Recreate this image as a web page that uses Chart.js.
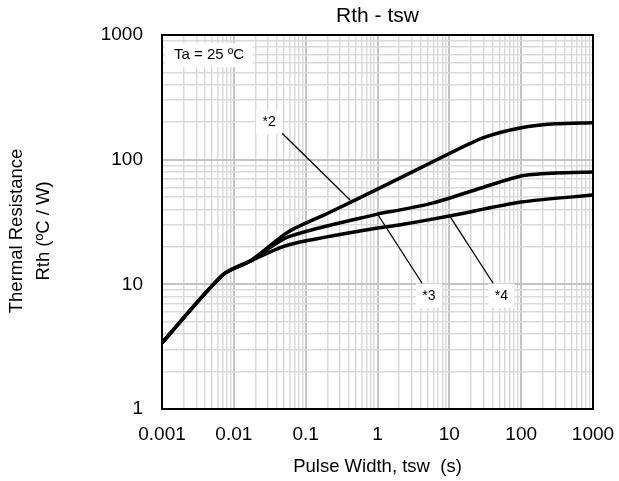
<!DOCTYPE html>
<html>
<head>
<meta charset="utf-8">
<script src="https://cdn.jsdelivr.net/npm/chart.js@4"></script>
<style>
  html, body { margin: 0; padding: 0; background: #fff; }
  #wrap { width: 619px; height: 481px; }
</style>
</head>
<body>
<div id="wrap"><canvas id="rthChart" width="619" height="481"></canvas></div>
<script>
// pulse width (s) and thermal resistance (ºC/W)
const tsw2 = [0.001, 0.007, 0.017, 0.057, 0.2, 1, 10, 30, 100, 300, 1000];
const rth2 = [3.4, 11.9, 15.4, 26.3, 37, 58, 112, 150, 180, 194, 198];
const tsw3 = [0.001, 0.007, 0.017, 0.057, 1, 2, 6, 27, 100, 300, 1000];
const rth3 = [3.4, 11.9, 15.4, 24, 36.6, 39.4, 45, 59, 74, 78, 79.5];
const tsw4 = [0.001, 0.007, 0.017, 0.057, 1, 2, 10, 100, 1000];
const rth4 = [3.4, 11.9, 15.4, 20.7, 28.3, 29.9, 35.3, 45.7, 52];

// leader lines for the curve labels: [from, to]
const leader2 = [[0.047, 163], [0.415, 47.4]];
const leader3 = [[1.02, 36], [4.18, 10.2]];
const leader4 = [[10.3, 34.7], [40.7, 10.2]];

const noteText = ["*2", "*3", "*4"];
const notePos = [[0.031, 200], [5.2, 8.1], [53, 8.1]];

const xTickLabels = [0.001, 0.01, 0.1, 1, 10, 100, 1000];
const yTickLabels = [1, 10, 100, 1000];

const FONT = "'Liberation Sans', Arial, sans-serif";

function toXY(xs, ys) {
  return xs.map((x, i) => ({ x, y: ys[i] }));
}
function pairXY(p) {
  return p.map((d) => ({ x: d[0], y: d[1] }));
}
function isDecade(v) {
  const l = Math.log10(v);
  return Math.abs(l - Math.round(l)) < 1e-6;
}
function logTicks(lo, hi) {
  const t = [];
  for (let e = lo; e <= hi; e++) {
    for (let m = 1; m <= 9; m++) {
      const v = m * Math.pow(10, e);
      if (v <= Math.pow(10, hi) * 1.0001) t.push({ value: v });
    }
  }
  return t;
}

const curveStyle = {
  borderColor: "#000",
  borderWidth: 3.5,
  pointRadius: 0,
  tension: 0.25,
  fill: false,
};
const leaderStyle = {
  borderColor: "#000",
  borderWidth: 1.3,
  pointRadius: 0,
  tension: 0,
  fill: false,
};

const extras = {
  id: "extras",
  afterDatasetsDraw(chart) {
    const c = chart.ctx;
    const xs = chart.scales.x;
    const ys = chart.scales.y;
    const a = chart.chartArea;

    c.save();
    c.textAlign = "center";
    c.textBaseline = "middle";

    // note labels with white boxes
    c.font = "14px " + FONT;
    noteText.forEach((t, i) => {
      const px = xs.getPixelForValue(notePos[i][0]);
      const py = ys.getPixelForValue(notePos[i][1]);
      c.fillStyle = "#fff";
      c.fillRect(px - 13, py - 12, 26, 24);
      c.fillStyle = "#000";
      c.fillText(t, px, py);
    });

    // Ta box
    const bx = xs.getPixelForValue(0.00452);
    const by = ys.getPixelForValue(690);
    c.fillStyle = "#fff";
    c.fillRect(bx - 44, by - 12, 88, 24);
    c.fillStyle = "#000";
    c.font = "15px " + FONT;
    c.fillText("Ta = 25 ºC", bx, by);

    // frame
    c.strokeStyle = "#000";
    c.lineWidth = 2;
    c.strokeRect(a.left, a.top, a.right - a.left, a.bottom - a.top);

    // titles
    c.font = "21px " + FONT;
    c.fillText("Rth - tsw", (a.left + a.right) / 2, 16);
    c.font = "18.5px " + FONT;
    c.fillText("Pulse Width, tsw  (s)", (a.left + a.right) / 2, 467);
    c.translate(0, 231);
    c.rotate(-Math.PI / 2);
    c.fillText("Thermal Resistance", 0, 17);
    c.fillText("Rth (ºC / W)", 0, 44);
    c.restore();
  },
};

new Chart(document.getElementById("rthChart"), {
  type: "line",
  data: {
    datasets: [
      { ...curveStyle, label: "*2", data: toXY(tsw2, rth2) },
      { ...curveStyle, label: "*3", data: toXY(tsw3, rth3) },
      { ...curveStyle, label: "*4", data: toXY(tsw4, rth4) },
      { ...leaderStyle, label: "l2", data: pairXY(leader2) },
      { ...leaderStyle, label: "l3", data: pairXY(leader3) },
      { ...leaderStyle, label: "l4", data: pairXY(leader4) },
    ],
  },
  options: {
    responsive: false,
    animation: false,
    layout: { padding: { top: 35, right: 26, left: 0, bottom: 0 } },
    plugins: {
      legend: { display: false },
      title: { display: false },
      tooltip: { enabled: false },
    },
    scales: {
      x: {
        type: "logarithmic",
        min: 0.001,
        max: 1000,
        afterBuildTicks: (s) => { s.ticks = logTicks(-3, 3); },
        afterFit: (s) => {
          s.height = 72;
          s.paddingLeft = 0;
          s.paddingRight = 0;
        },
        grid: {
          drawTicks: false,
          color: (c) => (isDecade(c.tick.value) ? "#c4c4c4" : "#dadada"),
          lineWidth: (c) => (isDecade(c.tick.value) ? 2 : 1.5),
        },
        border: { display: false },
        ticks: {
          autoSkip: false,
          maxRotation: 0,
          padding: 14,
          color: "#000",
          font: { family: FONT, size: 19 },
          callback: (v) => {
            const hit = xTickLabels.find((l) => Math.abs(l - v) / l < 1e-6);
            return hit !== undefined ? String(hit) : "";
          },
        },
      },
      y: {
        type: "logarithmic",
        min: 1,
        max: 1000,
        afterBuildTicks: (s) => { s.ticks = logTicks(0, 3); },
        afterFit: (s) => {
          s.width = 162;
          s.paddingTop = 0;
          s.paddingBottom = 0;
        },
        grid: {
          drawTicks: false,
          color: (c) => (isDecade(c.tick.value) ? "#c4c4c4" : "#dadada"),
          lineWidth: (c) => (isDecade(c.tick.value) ? 2 : 1.5),
        },
        border: { display: false },
        ticks: {
          autoSkip: false,
          padding: 19,
          color: "#000",
          font: { family: FONT, size: 19 },
          callback: (v) => {
            const hit = yTickLabels.find((l) => Math.abs(l - v) / l < 1e-6);
            return hit !== undefined ? String(hit) : "";
          },
        },
      },
    },
  },
  plugins: [extras],
});
</script>
</body>
</html>
